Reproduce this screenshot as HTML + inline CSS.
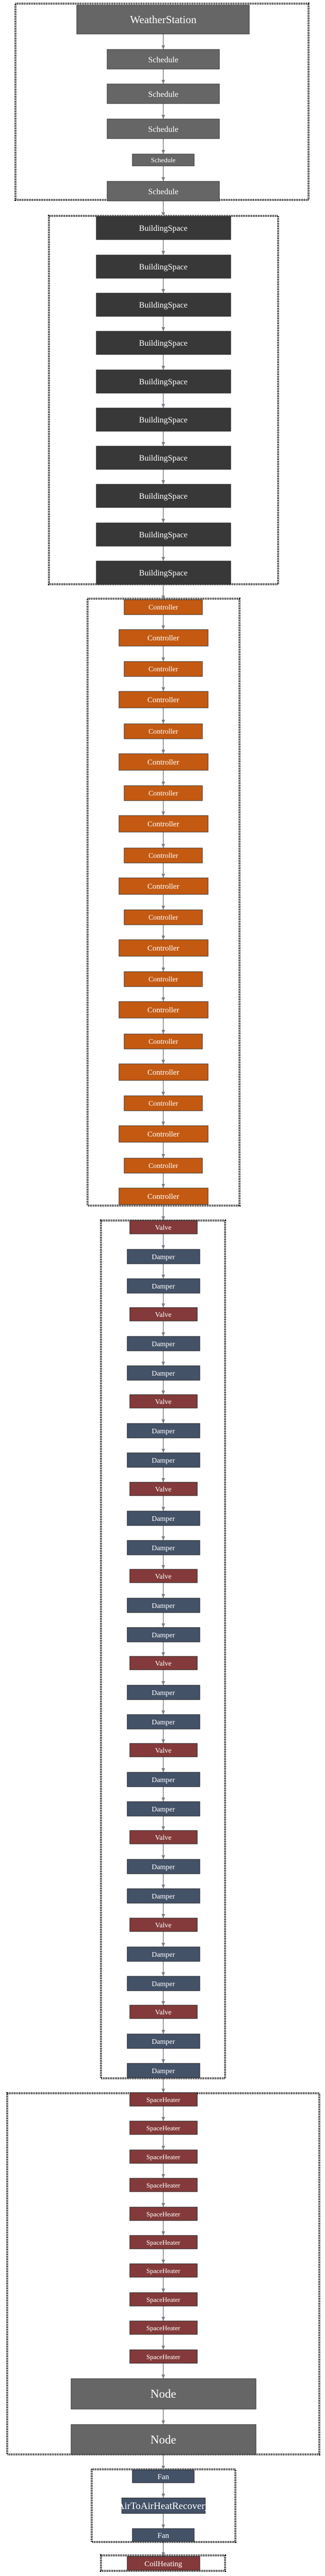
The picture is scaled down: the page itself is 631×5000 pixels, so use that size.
<!DOCTYPE html>
<html><head><meta charset="utf-8"><style>
html,body{margin:0;padding:0;background:#fff;}
svg{display:block;}
text{font-family:"Liberation Serif",serif;fill:#fff;text-anchor:middle;}
.c{fill:none;stroke:#000;stroke-width:4;stroke-dasharray:1.5 1.8;}
.g{fill:#666;stroke:#333;stroke-width:1;}
.b{fill:#383838;stroke:#222;stroke-width:1;}
.o{fill:#c45a12;stroke:#333;stroke-width:1;}
.r{fill:#843a3a;stroke:#222;stroke-width:1;}
.d{fill:#445268;stroke:#222;stroke-width:1;}
</style></head><body>
<svg width="631" height="5000" viewBox="0 0 631 5000" xmlns="http://www.w3.org/2000/svg">
<defs><polygon id="a" points="-3.5,-8 3.5,-8 0,0" fill="#7a8088"/></defs>
<line x1="317" y1="60" x2="317" y2="4962" stroke="#7a8088" stroke-width="1.5"/>
<!-- clusters -->
<rect class="c" x="30" y="7" width="569" height="381"/>
<rect class="c" x="95" y="419" width="445" height="715"/>
<rect class="c" x="170" y="1162" width="295" height="1178"/>
<rect class="c" x="196" y="2369" width="241" height="1665"/>
<rect class="c" x="14" y="4063" width="606" height="701"/>
<rect class="c" x="178" y="4793" width="279" height="141"/>
<rect class="c" x="196" y="4960" width="241" height="30"/>

<!-- section 1 -->
<rect class="g" x="149" y="10" width="335" height="56"/><text x="317" y="45" font-size="21">WeatherStation</text>
<rect class="g" x="208" y="96" width="218" height="38"/><text x="317" y="121" font-size="16">Schedule</text>
<rect class="g" x="208" y="163" width="218" height="38"/><text x="317" y="188" font-size="16">Schedule</text>
<rect class="g" x="208" y="231" width="218" height="38"/><text x="317" y="256" font-size="16">Schedule</text>
<rect class="g" x="257" y="299" width="120" height="23"/><text x="317" y="315" font-size="13">Schedule</text>
<rect class="g" x="208" y="352" width="218" height="38"/><text x="317" y="377" font-size="16">Schedule</text>
<use href="#a" x="317" y="96"/><use href="#a" x="317" y="163"/><use href="#a" x="317" y="231"/><use href="#a" x="317" y="299"/><use href="#a" x="317" y="352"/>

<!-- section 2 -->
<rect class="b" x="187" y="420" width="261" height="45"/><text x="317" y="448" font-size="16">BuildingSpace</text>
<rect class="b" x="187" y="495" width="261" height="45"/><text x="317" y="523" font-size="16">BuildingSpace</text>
<rect class="b" x="187" y="569" width="261" height="45"/><text x="317" y="597" font-size="16">BuildingSpace</text>
<rect class="b" x="187" y="643" width="261" height="45"/><text x="317" y="671" font-size="16">BuildingSpace</text>
<rect class="b" x="187" y="718" width="261" height="45"/><text x="317" y="746" font-size="16">BuildingSpace</text>
<rect class="b" x="187" y="792" width="261" height="45"/><text x="317" y="820" font-size="16">BuildingSpace</text>
<rect class="b" x="187" y="866" width="261" height="45"/><text x="317" y="894" font-size="16">BuildingSpace</text>
<rect class="b" x="187" y="940" width="261" height="45"/><text x="317" y="968" font-size="16">BuildingSpace</text>
<rect class="b" x="187" y="1015" width="261" height="45"/><text x="317" y="1043" font-size="16">BuildingSpace</text>
<rect class="b" x="187" y="1089" width="261" height="45"/><text x="317" y="1117" font-size="16">BuildingSpace</text>
<use href="#a" x="317" y="420"/><use href="#a" x="317" y="495"/><use href="#a" x="317" y="569"/><use href="#a" x="317" y="643"/><use href="#a" x="317" y="718"/><use href="#a" x="317" y="792"/><use href="#a" x="317" y="866"/><use href="#a" x="317" y="940"/><use href="#a" x="317" y="1015"/><use href="#a" x="317" y="1089"/>

<!-- section 3 controllers -->
<rect class="o" x="241" y="1164" width="152" height="29"/><text x="317" y="1183" font-size="14">Controller</text>
<rect class="o" x="231" y="1222" width="173" height="32"/><text x="317" y="1243" font-size="15">Controller</text>
<rect class="o" x="241" y="1284" width="152" height="29"/><text x="317" y="1303" font-size="14">Controller</text>
<rect class="o" x="231" y="1342" width="173" height="32"/><text x="317" y="1363" font-size="15">Controller</text>
<rect class="o" x="241" y="1405" width="152" height="29"/><text x="317" y="1424" font-size="14">Controller</text>
<rect class="o" x="231" y="1463" width="173" height="32"/><text x="317" y="1484" font-size="15">Controller</text>
<rect class="o" x="241" y="1525" width="152" height="29"/><text x="317" y="1544" font-size="14">Controller</text>
<rect class="o" x="231" y="1583" width="173" height="32"/><text x="317" y="1604" font-size="15">Controller</text>
<rect class="o" x="241" y="1646" width="152" height="29"/><text x="317" y="1665" font-size="14">Controller</text>
<rect class="o" x="231" y="1704" width="173" height="32"/><text x="317" y="1725" font-size="15">Controller</text>
<rect class="o" x="241" y="1766" width="152" height="29"/><text x="317" y="1785" font-size="14">Controller</text>
<rect class="o" x="231" y="1824" width="173" height="32"/><text x="317" y="1845" font-size="15">Controller</text>
<rect class="o" x="241" y="1886" width="152" height="29"/><text x="317" y="1905" font-size="14">Controller</text>
<rect class="o" x="231" y="1944" width="173" height="32"/><text x="317" y="1965" font-size="15">Controller</text>
<rect class="o" x="241" y="2007" width="152" height="29"/><text x="317" y="2026" font-size="14">Controller</text>
<rect class="o" x="231" y="2065" width="173" height="32"/><text x="317" y="2086" font-size="15">Controller</text>
<rect class="o" x="241" y="2127" width="152" height="29"/><text x="317" y="2146" font-size="14">Controller</text>
<rect class="o" x="231" y="2185" width="173" height="32"/><text x="317" y="2206" font-size="15">Controller</text>
<rect class="o" x="241" y="2248" width="152" height="29"/><text x="317" y="2267" font-size="14">Controller</text>
<rect class="o" x="231" y="2306" width="173" height="32"/><text x="317" y="2327" font-size="15">Controller</text>
<use href="#a" x="317" y="1164"/><use href="#a" x="317" y="1222"/><use href="#a" x="317" y="1284"/><use href="#a" x="317" y="1342"/><use href="#a" x="317" y="1405"/><use href="#a" x="317" y="1463"/><use href="#a" x="317" y="1525"/><use href="#a" x="317" y="1583"/><use href="#a" x="317" y="1646"/><use href="#a" x="317" y="1704"/><use href="#a" x="317" y="1766"/><use href="#a" x="317" y="1824"/><use href="#a" x="317" y="1886"/><use href="#a" x="317" y="1944"/><use href="#a" x="317" y="2007"/><use href="#a" x="317" y="2065"/><use href="#a" x="317" y="2127"/><use href="#a" x="317" y="2185"/><use href="#a" x="317" y="2248"/><use href="#a" x="317" y="2306"/>

<!-- section 4 valves/dampers -->
<rect class="r" x="252" y="2369" width="131" height="26"/><text x="317" y="2387" font-size="14">Valve</text>
<rect class="d" x="247" y="2425" width="141" height="28"/><text x="317" y="2444" font-size="14">Damper</text>
<rect class="d" x="247" y="2482" width="141" height="28"/><text x="317" y="2501" font-size="14">Damper</text>
<rect class="r" x="252" y="2538" width="131" height="26"/><text x="317" y="2556" font-size="14">Valve</text>
<rect class="d" x="247" y="2594" width="141" height="28"/><text x="317" y="2613" font-size="14">Damper</text>
<rect class="d" x="247" y="2651" width="141" height="28"/><text x="317" y="2670" font-size="14">Damper</text>
<rect class="r" x="252" y="2707" width="131" height="26"/><text x="317" y="2725" font-size="14">Valve</text>
<rect class="d" x="247" y="2763" width="141" height="28"/><text x="317" y="2782" font-size="14">Damper</text>
<rect class="d" x="247" y="2820" width="141" height="28"/><text x="317" y="2839" font-size="14">Damper</text>
<rect class="r" x="252" y="2877" width="131" height="26"/><text x="317" y="2895" font-size="14">Valve</text>
<rect class="d" x="247" y="2933" width="141" height="28"/><text x="317" y="2952" font-size="14">Damper</text>
<rect class="d" x="247" y="2990" width="141" height="28"/><text x="317" y="3009" font-size="14">Damper</text>
<rect class="r" x="252" y="3046" width="131" height="26"/><text x="317" y="3064" font-size="14">Valve</text>
<rect class="d" x="247" y="3102" width="141" height="28"/><text x="317" y="3121" font-size="14">Damper</text>
<rect class="d" x="247" y="3159" width="141" height="28"/><text x="317" y="3178" font-size="14">Damper</text>
<rect class="r" x="252" y="3215" width="131" height="26"/><text x="317" y="3233" font-size="14">Valve</text>
<rect class="d" x="247" y="3271" width="141" height="28"/><text x="317" y="3290" font-size="14">Damper</text>
<rect class="d" x="247" y="3328" width="141" height="28"/><text x="317" y="3347" font-size="14">Damper</text>
<rect class="r" x="252" y="3384" width="131" height="26"/><text x="317" y="3402" font-size="14">Valve</text>
<rect class="d" x="247" y="3440" width="141" height="28"/><text x="317" y="3459" font-size="14">Damper</text>
<rect class="d" x="247" y="3497" width="141" height="28"/><text x="317" y="3516" font-size="14">Damper</text>
<rect class="r" x="252" y="3553" width="131" height="26"/><text x="317" y="3571" font-size="14">Valve</text>
<rect class="d" x="247" y="3609" width="141" height="28"/><text x="317" y="3628" font-size="14">Damper</text>
<rect class="d" x="247" y="3666" width="141" height="28"/><text x="317" y="3685" font-size="14">Damper</text>
<rect class="r" x="252" y="3723" width="131" height="26"/><text x="317" y="3741" font-size="14">Valve</text>
<rect class="d" x="247" y="3779" width="141" height="28"/><text x="317" y="3798" font-size="14">Damper</text>
<rect class="d" x="247" y="3836" width="141" height="28"/><text x="317" y="3855" font-size="14">Damper</text>
<rect class="r" x="252" y="3892" width="131" height="26"/><text x="317" y="3910" font-size="14">Valve</text>
<rect class="d" x="247" y="3948" width="141" height="28"/><text x="317" y="3967" font-size="14">Damper</text>
<rect class="d" x="247" y="4005" width="141" height="28"/><text x="317" y="4024" font-size="14">Damper</text>
<use href="#a" x="317" y="2369"/><use href="#a" x="317" y="2425"/><use href="#a" x="317" y="2482"/><use href="#a" x="317" y="2538"/><use href="#a" x="317" y="2594"/><use href="#a" x="317" y="2651"/><use href="#a" x="317" y="2707"/><use href="#a" x="317" y="2763"/><use href="#a" x="317" y="2820"/><use href="#a" x="317" y="2877"/><use href="#a" x="317" y="2933"/><use href="#a" x="317" y="2990"/><use href="#a" x="317" y="3046"/><use href="#a" x="317" y="3102"/><use href="#a" x="317" y="3159"/><use href="#a" x="317" y="3215"/><use href="#a" x="317" y="3271"/><use href="#a" x="317" y="3328"/><use href="#a" x="317" y="3384"/><use href="#a" x="317" y="3440"/><use href="#a" x="317" y="3497"/><use href="#a" x="317" y="3553"/><use href="#a" x="317" y="3609"/><use href="#a" x="317" y="3666"/><use href="#a" x="317" y="3723"/><use href="#a" x="317" y="3779"/><use href="#a" x="317" y="3836"/><use href="#a" x="317" y="3892"/><use href="#a" x="317" y="3948"/><use href="#a" x="317" y="4005"/>

<!-- section 5 heaters / nodes -->
<rect class="r" x="252" y="4062" width="131" height="26"/><text x="317" y="4080" font-size="13">SpaceHeater</text>
<rect class="r" x="252" y="4117" width="131" height="26"/><text x="317" y="4135" font-size="13">SpaceHeater</text>
<rect class="r" x="252" y="4173" width="131" height="26"/><text x="317" y="4191" font-size="13">SpaceHeater</text>
<rect class="r" x="252" y="4228" width="131" height="26"/><text x="317" y="4246" font-size="13">SpaceHeater</text>
<rect class="r" x="252" y="4284" width="131" height="26"/><text x="317" y="4302" font-size="13">SpaceHeater</text>
<rect class="r" x="252" y="4339" width="131" height="26"/><text x="317" y="4357" font-size="13">SpaceHeater</text>
<rect class="r" x="252" y="4394" width="131" height="26"/><text x="317" y="4412" font-size="13">SpaceHeater</text>
<rect class="r" x="252" y="4450" width="131" height="26"/><text x="317" y="4468" font-size="13">SpaceHeater</text>
<rect class="r" x="252" y="4505" width="131" height="26"/><text x="317" y="4523" font-size="13">SpaceHeater</text>
<rect class="r" x="252" y="4561" width="131" height="26"/><text x="317" y="4579" font-size="13">SpaceHeater</text>
<rect class="g" x="138" y="4617" width="359" height="59"/><text x="317" y="4654" font-size="23">Node</text>
<rect class="g" x="138" y="4706" width="359" height="58"/><text x="317" y="4743" font-size="23">Node</text>
<use href="#a" x="317" y="4062"/><use href="#a" x="317" y="4117"/><use href="#a" x="317" y="4173"/><use href="#a" x="317" y="4228"/><use href="#a" x="317" y="4284"/><use href="#a" x="317" y="4339"/><use href="#a" x="317" y="4394"/><use href="#a" x="317" y="4450"/><use href="#a" x="317" y="4505"/><use href="#a" x="317" y="4561"/><use href="#a" x="317" y="4617"/><use href="#a" x="317" y="4706"/>

<!-- section 6 -->
<rect class="d" x="257" y="4794" width="120" height="25"/><text x="317" y="4812" font-size="15">Fan</text>
<svg x="236" y="4848" width="163" height="31" overflow="hidden"><rect class="d" x="0.5" y="0.5" width="162" height="30"/><text x="81.5" y="22" font-size="19">AirToAirHeatRecovery</text></svg>
<rect class="d" x="257" y="4908" width="120" height="25"/><text x="317" y="4926" font-size="15">Fan</text>
<use href="#a" x="317" y="4794"/><use href="#a" x="317" y="4848"/><use href="#a" x="317" y="4908"/>

<!-- section 7 -->
<rect class="r" x="247" y="4962" width="141" height="27"/><text x="317" y="4981" font-size="15">CoilHeating</text>
<use href="#a" x="317" y="4962"/>
</svg>
</body></html>
